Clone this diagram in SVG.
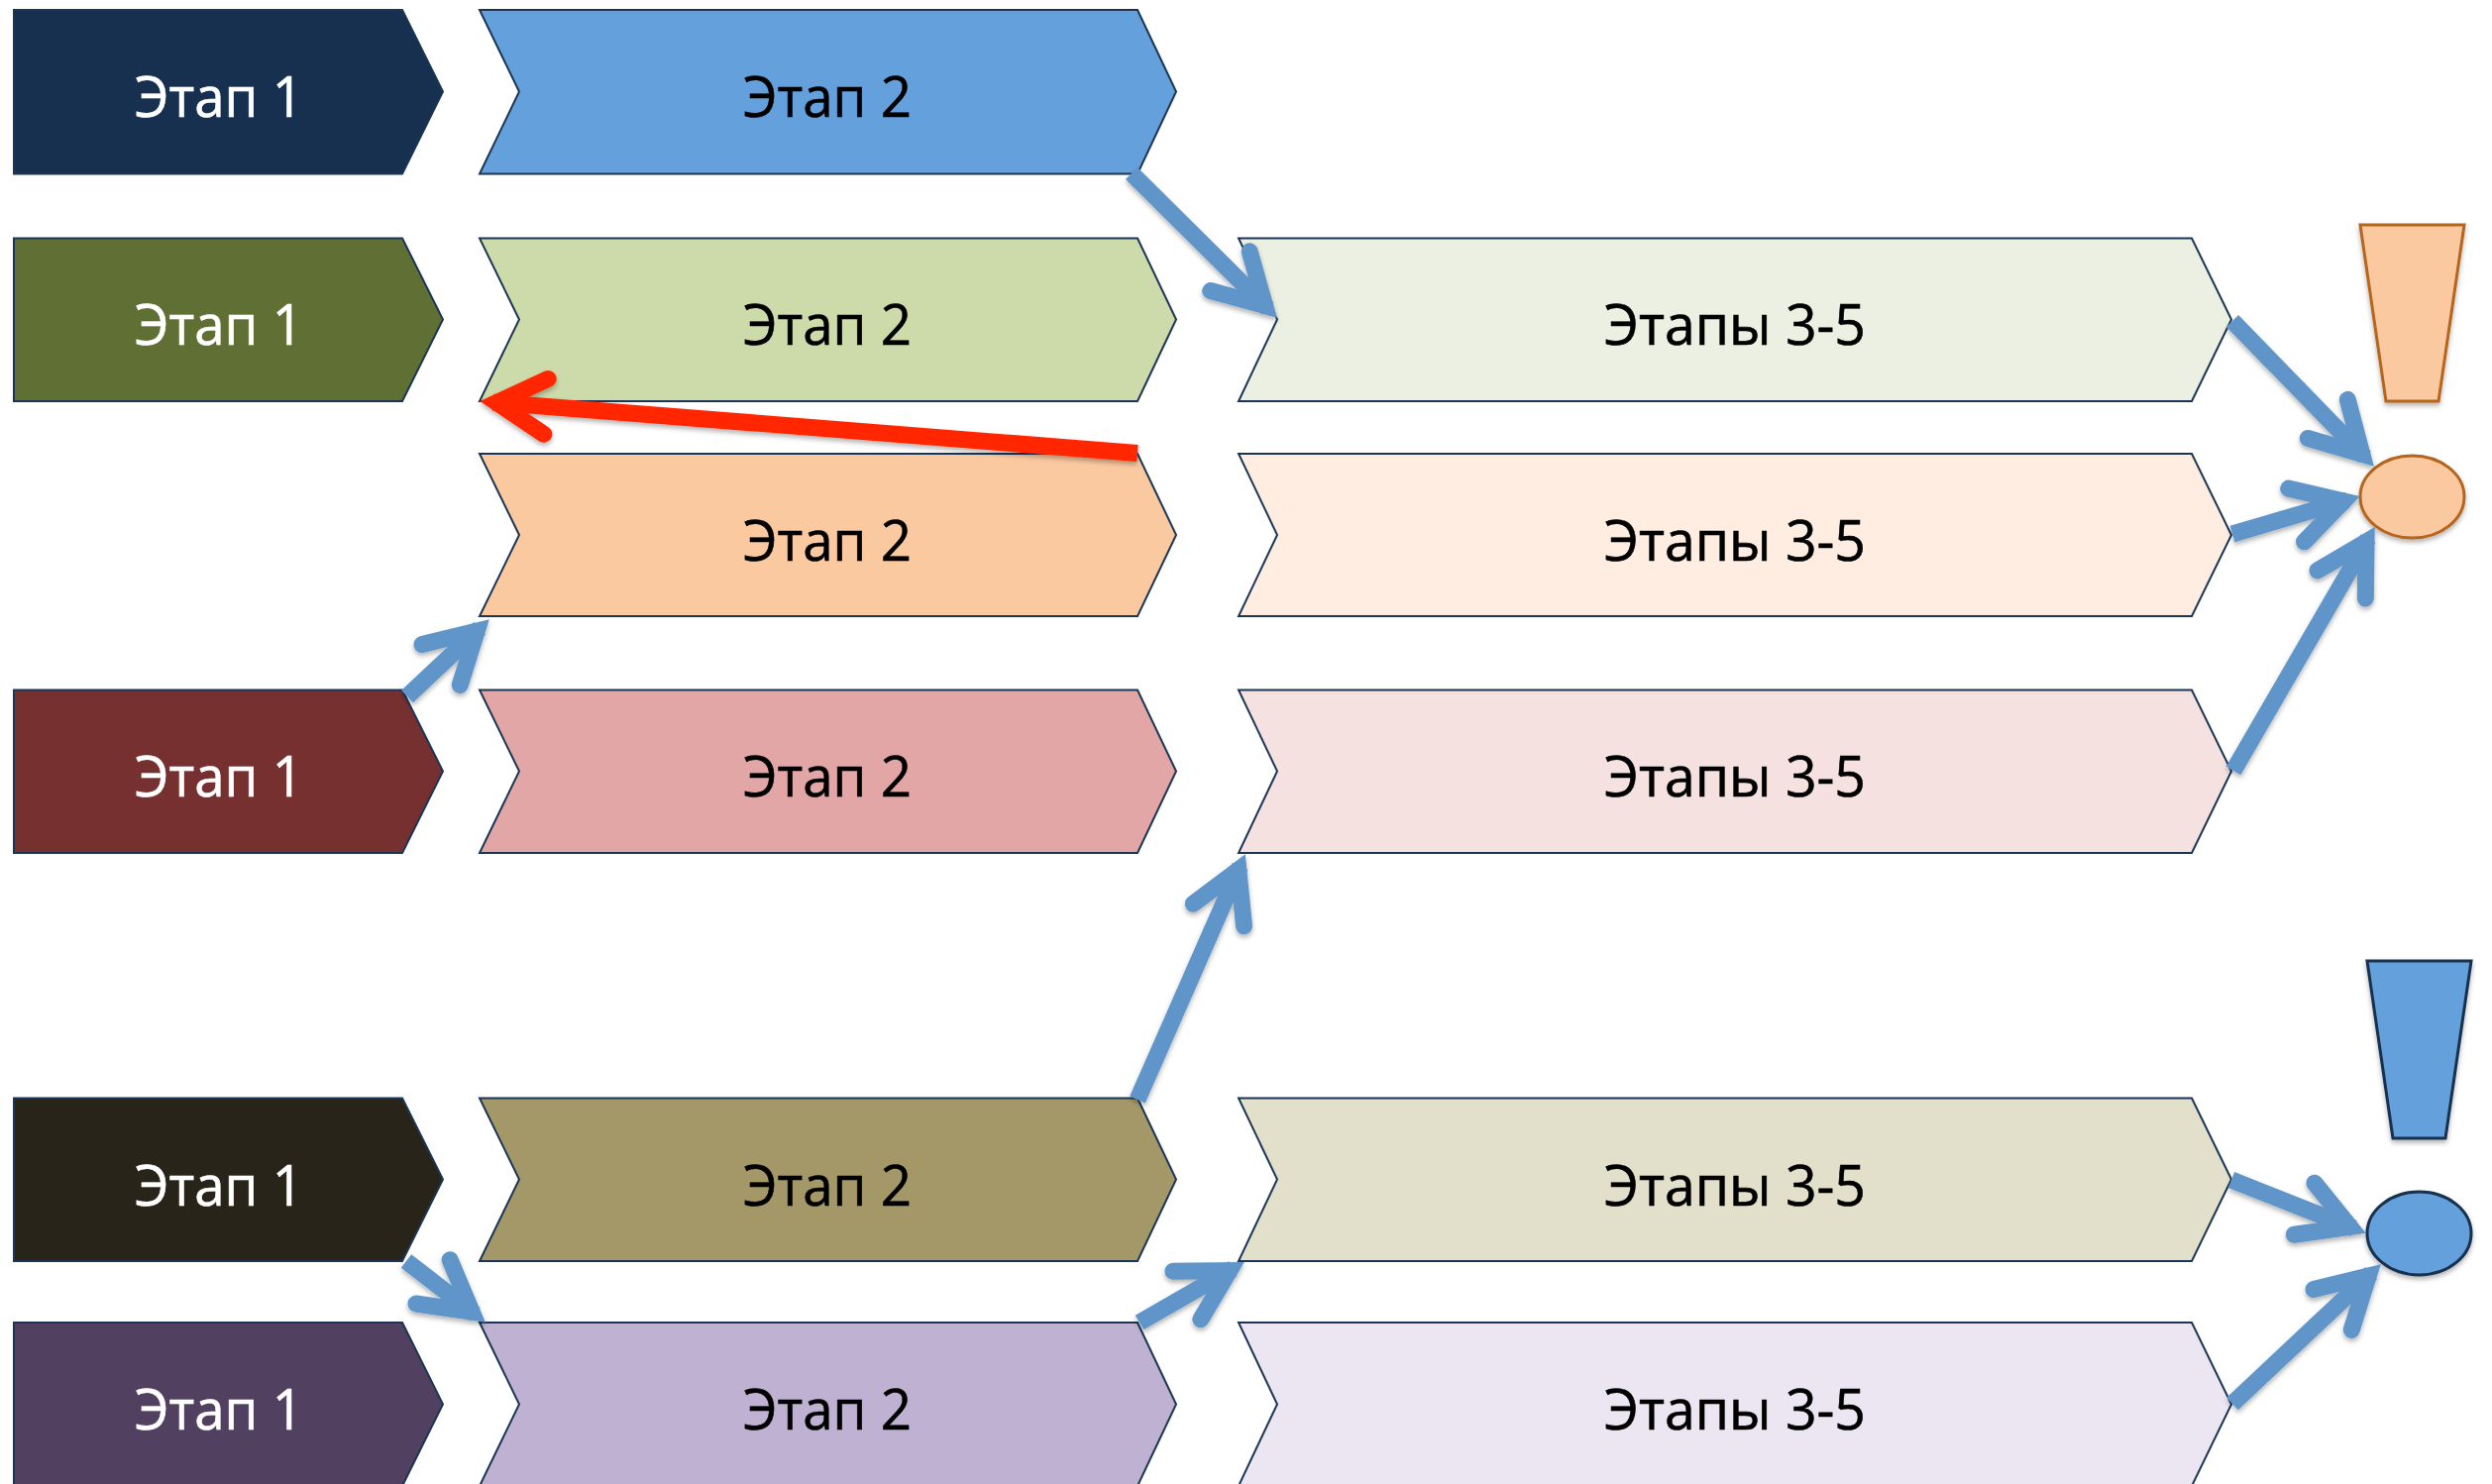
<svg xmlns="http://www.w3.org/2000/svg" width="2515" height="1498" viewBox="0 0 2515 1498">
<style>
.n{stroke:#1B3654;stroke-width:2;stroke-linejoin:miter}
.o{fill:#FBC9A0;stroke:#B5651D;stroke-width:3;filter:url(#sh)}
.b{fill:#64A0DC;stroke:#17304F;stroke-width:3;filter:url(#sh)}
text{font-family:"Open Sans","Noto Sans","DejaVu Sans",sans-serif;font-size:56px;text-anchor:middle;fill:#000;stroke:#000;stroke-width:.6}
text.w{fill:#fff;stroke:#fff}
.c{fill:none;stroke:#5F95C9;stroke-width:17}
.r{fill:none;stroke:#FF2600;stroke-width:17}
.h{fill:none;stroke-width:17;stroke-linecap:round;stroke-linejoin:miter;stroke-miterlimit:10}
</style>
<defs>
<filter id="sh" x="-20%" y="-20%" width="140%" height="140%"><feDropShadow dx="0" dy="3" stdDeviation="2.5" flood-color="#000" flood-opacity="0.3"/></filter>
<marker id="ab" markerUnits="userSpaceOnUse" markerWidth="140" markerHeight="120" viewBox="-70 -60 140 120" refX="0" refY="0" orient="auto" overflow="visible"><path class="h" stroke="#5F95C9" d="M-53.7,-28L-4.1,0L-53.7,28"/></marker>
<marker id="ar" markerUnits="userSpaceOnUse" markerWidth="140" markerHeight="120" viewBox="-70 -60 140 120" refX="0" refY="0" orient="auto" overflow="visible"><path class="h" stroke="#FF2600" d="M-53.7,-28L-4.1,0L-53.7,28"/></marker>
</defs>
<g id="r1s1"><polygon class="n" fill="#17304F" points="14,10 406,10 447,92.5 406,175.5 14,175.5"/><text class="w" x="221" y="118" textLength="170" lengthAdjust="spacingAndGlyphs">Этап 1</text></g>
<g id="r1s2"><polygon class="n" fill="#64A0DC" points="484,10 1148,10 1187,92.5 1148,175.5 484,175.5 524,92.5"/><text x="835" y="118" textLength="170" lengthAdjust="spacingAndGlyphs">Этап 2</text></g>
<g id="r2s1"><polygon class="n" fill="#607035" points="14,240.5 406,240.5 447,322.5 406,405 14,405"/><text class="w" x="221" y="348" textLength="170" lengthAdjust="spacingAndGlyphs">Этап 1</text></g>
<g id="r2s2"><polygon class="n" fill="#CDDBAB" points="484,240.5 1148,240.5 1187,322.5 1148,405 484,405 524,322.5"/><text x="835" y="348" textLength="170" lengthAdjust="spacingAndGlyphs">Этап 2</text></g>
<g id="r2s3"><polygon class="n" fill="#ECF0E2" points="1250,240.5 2212,240.5 2252,322.5 2212,405 1250,405 1289,322.5"/><text x="1751" y="348" textLength="264" lengthAdjust="spacingAndGlyphs">Этапы 3-5</text></g>
<g id="r3s2"><polygon class="n" fill="#FBC9A0" points="484,458 1148,458 1187,540 1148,622 484,622 524,540"/><text x="835" y="566" textLength="170" lengthAdjust="spacingAndGlyphs">Этап 2</text></g>
<g id="r3s3"><polygon class="n" fill="#FEEDE0" points="1250,458 2212,458 2252,540 2212,622 1250,622 1289,540"/><text x="1751" y="566" textLength="264" lengthAdjust="spacingAndGlyphs">Этапы 3-5</text></g>
<g id="r4s1"><polygon class="n" fill="#76302F" points="14,696.5 406,696.5 447,778.5 406,861 14,861"/><text class="w" x="221" y="804" textLength="170" lengthAdjust="spacingAndGlyphs">Этап 1</text></g>
<g id="r4s2"><polygon class="n" fill="#E1A6A5" points="484,696.5 1148,696.5 1187,778.5 1148,861 484,861 524,778.5"/><text x="835" y="804" textLength="170" lengthAdjust="spacingAndGlyphs">Этап 2</text></g>
<g id="r4s3"><polygon class="n" fill="#F5E2E0" points="1250,696.5 2212,696.5 2252,778.5 2212,861 1250,861 1289,778.5"/><text x="1751" y="804" textLength="264" lengthAdjust="spacingAndGlyphs">Этапы 3-5</text></g>
<g id="r5s1"><polygon class="n" fill="#28241A" points="14,1108.5 406,1108.5 447,1190.5 406,1273 14,1273"/><text class="w" x="221" y="1217" textLength="170" lengthAdjust="spacingAndGlyphs">Этап 1</text></g>
<g id="r5s2"><polygon class="n" fill="#A59868" points="484,1108.5 1148,1108.5 1187,1190.5 1148,1273 484,1273 524,1190.5"/><text x="835" y="1217" textLength="170" lengthAdjust="spacingAndGlyphs">Этап 2</text></g>
<g id="r5s3"><polygon class="n" fill="#E2DFCB" points="1250,1108.5 2212,1108.5 2252,1190.5 2212,1273 1250,1273 1289,1190.5"/><text x="1751" y="1217" textLength="264" lengthAdjust="spacingAndGlyphs">Этапы 3-5</text></g>
<g id="r6s1"><polygon class="n" fill="#514060" points="14,1335 406,1335 447,1417.5 406,1500 14,1500"/><text class="w" x="221" y="1443" textLength="170" lengthAdjust="spacingAndGlyphs">Этап 1</text></g>
<g id="r6s2"><polygon class="n" fill="#BFB1D2" points="484,1335 1148,1335 1187,1417.5 1148,1500 484,1500 524,1417.5"/><text x="835" y="1443" textLength="170" lengthAdjust="spacingAndGlyphs">Этап 2</text></g>
<g id="r6s3"><polygon class="n" fill="#EBE6F1" points="1250,1335 2212,1335 2252,1417.5 2212,1500 1250,1500 1289,1417.5"/><text x="1751" y="1443" textLength="264" lengthAdjust="spacingAndGlyphs">Этапы 3-5</text></g>
<g id="mark-orange"><polygon class="o" points="2382,227 2487,227 2461,405 2408,405"/><ellipse class="o" cx="2434.5" cy="501.5" rx="52.5" ry="41.5"/></g>
<g id="mark-blue"><polygon class="b" points="2389,970 2494,970 2468,1149 2415,1149"/><ellipse class="b" cx="2441.5" cy="1245" rx="52.5" ry="42"/></g>
<g id="connectors" filter="url(#sh)">
<line class="c" marker-end="url(#ab)" x1="1142" y1="175" x2="1279.6" y2="311.5"/>
<line class="c" marker-end="url(#ab)" x1="411" y1="703" x2="484.2" y2="634.2"/>
<line class="c" marker-end="url(#ab)" x1="2253" y1="324" x2="2386.7" y2="461.4"/>
<line class="c" marker-end="url(#ab)" x1="2253" y1="539" x2="2369.1" y2="504.8"/>
<line class="c" marker-end="url(#ab)" x1="2254" y1="778" x2="2390.1" y2="543.5"/>
<line class="c" marker-end="url(#ab)" x1="1148" y1="1110" x2="1251.5" y2="874.4"/>
<line class="c" marker-end="url(#ab)" x1="410" y1="1273" x2="479.5" y2="1326.7"/>
<line class="c" marker-end="url(#ab)" x1="1150" y1="1335" x2="1244.4" y2="1280.7"/>
<line class="c" marker-end="url(#ab)" x1="2252" y1="1191" x2="2375.5" y2="1240"/>
<line class="c" marker-end="url(#ab)" x1="2253" y1="1417" x2="2393.2" y2="1285.2"/>
<line class="r" marker-end="url(#ar)" x1="1148" y1="457.5" x2="497.4" y2="406.1"/>
</g>
</svg>
